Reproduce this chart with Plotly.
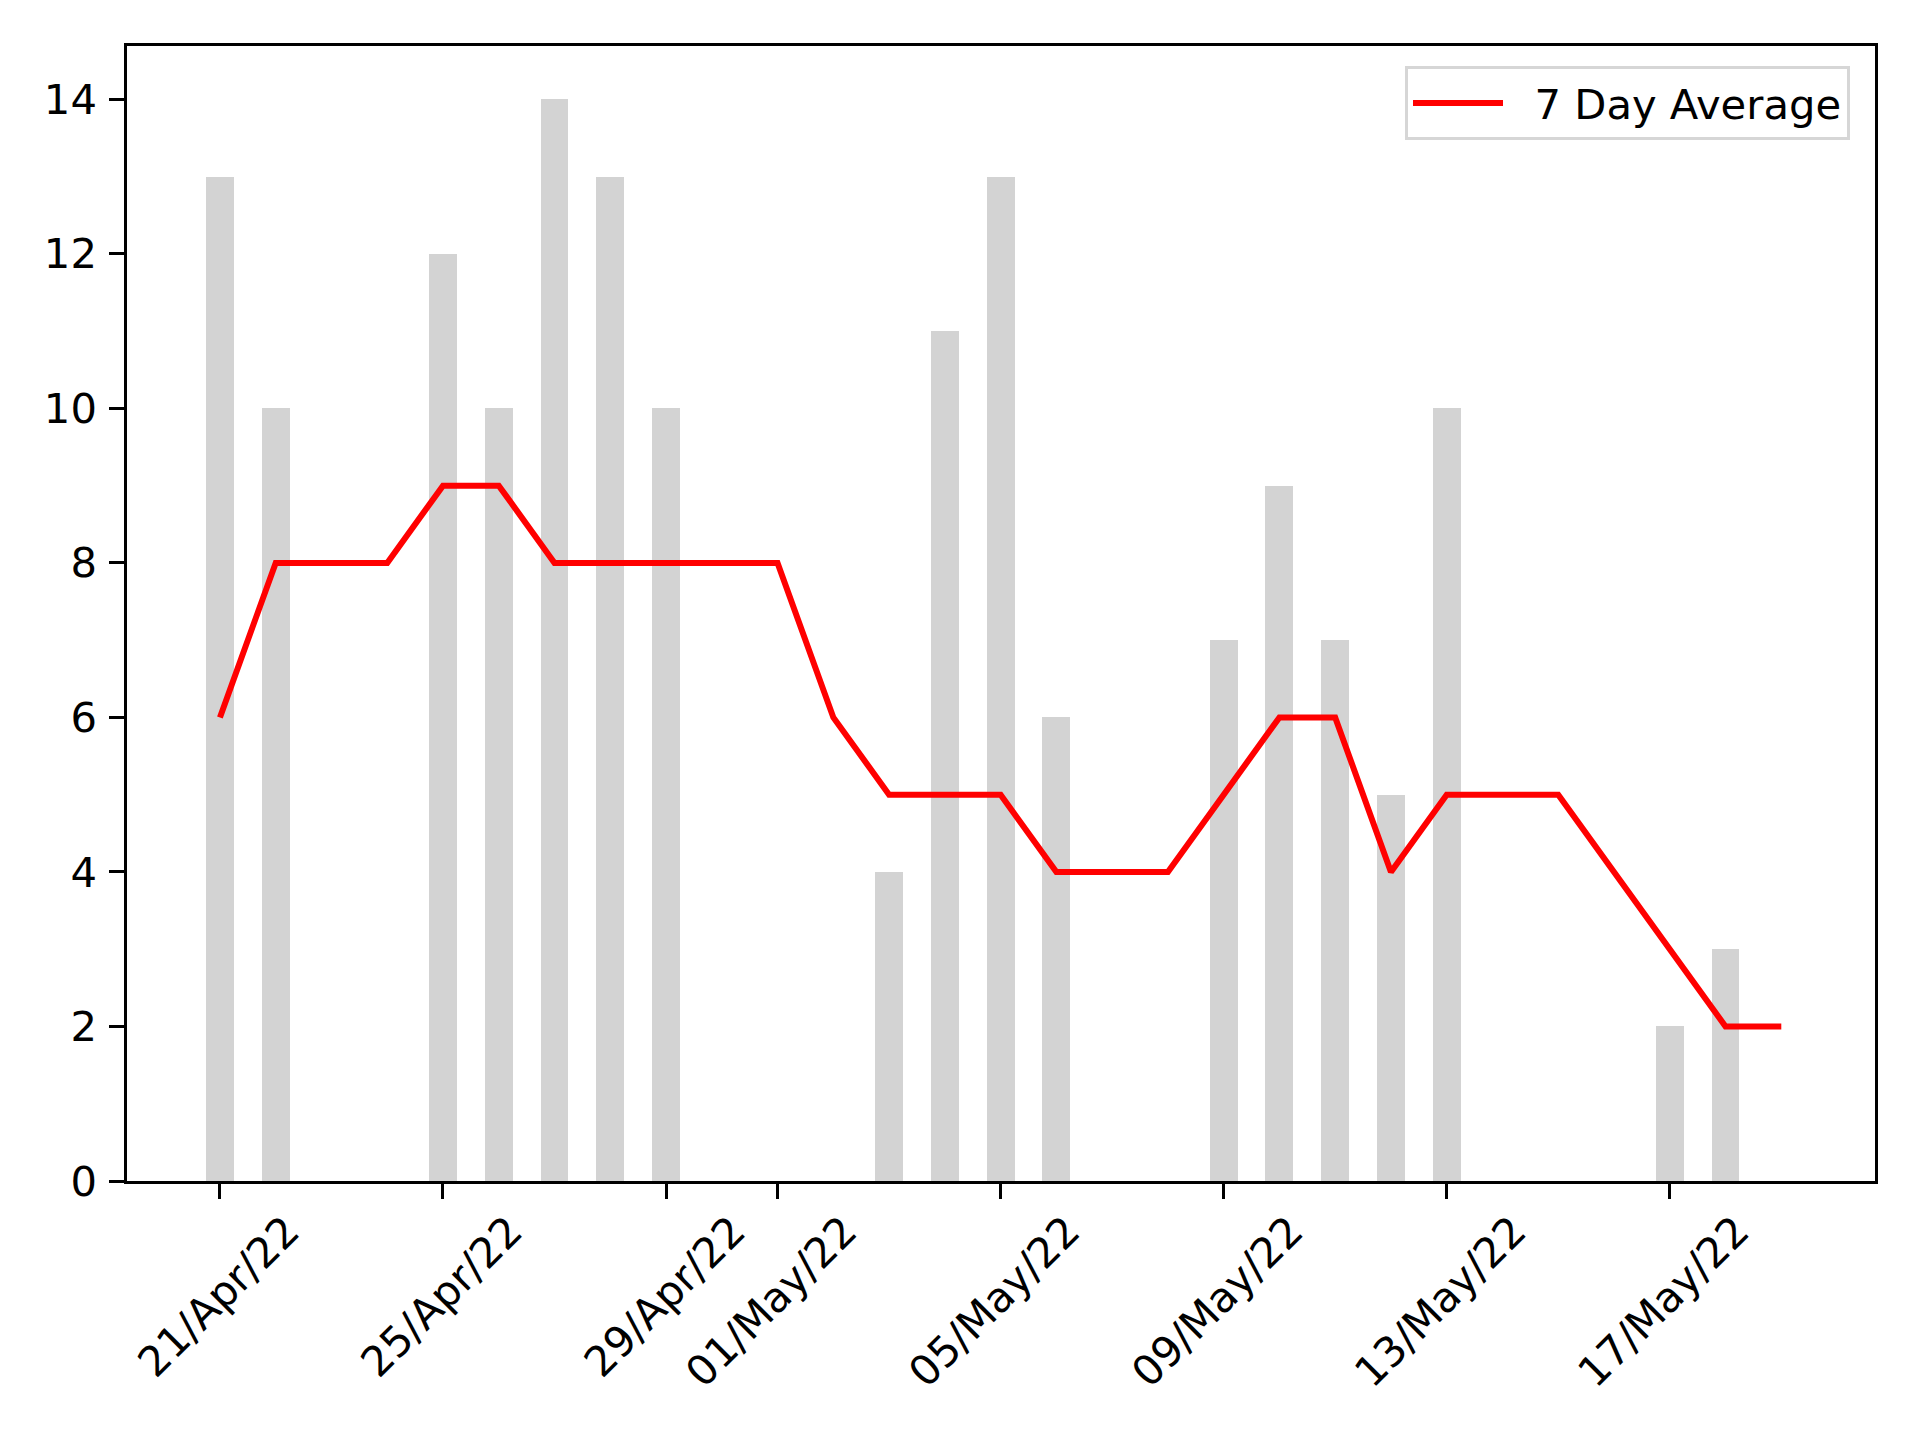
import plotly.graph_objects as go

dates = ["2022-04-21", "2022-04-22", "2022-04-23", "2022-04-24", "2022-04-25", "2022-04-26",
         "2022-04-27", "2022-04-28", "2022-04-29", "2022-04-30", "2022-05-01", "2022-05-02",
         "2022-05-03", "2022-05-04", "2022-05-05", "2022-05-06", "2022-05-07", "2022-05-08",
         "2022-05-09", "2022-05-10", "2022-05-11", "2022-05-12", "2022-05-13", "2022-05-14",
         "2022-05-15", "2022-05-16", "2022-05-17", "2022-05-18", "2022-05-19"]
daily_counts = [13, 10, 0, 0, 12, 10, 14, 13, 10, 0, 0, 0, 4, 11, 13, 6, 0, 0,
                7, 9, 7, 5, 10, 0, 0, 0, 2, 3, 0]
seven_day_avg = [6, 8, 8, 8, 9, 9, 8, 8, 8, 8, 8, 6, 5, 5, 5, 4, 4, 4,
                 5, 6, 6, 4, 5, 5, 5, 4, 3, 2, 2]
tick_dates = ["2022-04-21", "2022-04-25", "2022-04-29", "2022-05-01",
              "2022-05-05", "2022-05-09", "2022-05-13", "2022-05-17"]
tick_labels = ["21/Apr/22", "25/Apr/22", "29/Apr/22", "01/May/22",
               "05/May/22", "09/May/22", "13/May/22", "17/May/22"]
y_ticks = [0, 2, 4, 6, 8, 10, 12, 14]

FONT = "DejaVu Sans"
FS = 41.7

fig = go.Figure()
fig.add_trace(go.Bar(
    x=dates, y=daily_counts, width=0.5 * 86400000,
    marker=dict(color="#d3d3d3", line=dict(width=0)),
    showlegend=False, name="Daily",
))
fig.add_trace(go.Scatter(
    x=dates, y=seven_day_avg, mode="lines",
    line=dict(color="#ff0000", width=6),
    name="\u00a0\u00a07 Day Average",
))

fig.update_layout(
    width=1920, height=1440,
    paper_bgcolor="white", plot_bgcolor="white",
    margin=dict(l=127, r=45, t=46, b=259, pad=0),
    font=dict(family=FONT, size=FS, color="black"),
    bargap=0,
    legend=dict(
        x=0.9857, y=0.9820, xanchor="right", yanchor="top",
        bgcolor="white", bordercolor="#d6d6d6", borderwidth=3,
        font=dict(family=FONT, size=FS, color="black"),
        itemwidth=90,
    ),
)
fig.update_xaxes(
    type="date",
    range=["2022-04-19 08:00", "2022-05-20 16:20"],
    tickmode="array", tickvals=tick_dates, ticktext=tick_labels,
    tickangle=-45, ticklabelshift=67, ticklabelstandoff=-9,
    ticks="outside", ticklen=14.6, tickwidth=3.3, tickcolor="black",
    showline=True, linecolor="black", linewidth=3.3, mirror=True,
    showgrid=False, zeroline=False,
    tickfont=dict(family=FONT, size=FS, color="black"),
)
fig.update_yaxes(
    range=[0, 14.69],
    tickmode="array", tickvals=y_ticks, ticktext=[str(v) for v in y_ticks],
    ticks="outside", ticklen=14.6, tickwidth=3.3, tickcolor="black",
    ticklabelstandoff=4,
    showline=True, linecolor="black", linewidth=3.3, mirror=True,
    showgrid=False, zeroline=False,
    tickfont=dict(family=FONT, size=FS, color="black"),
)

fig.write_html("out.html", config={"displayModeBar": False},
               post_script="document.body.style.margin='0';")
